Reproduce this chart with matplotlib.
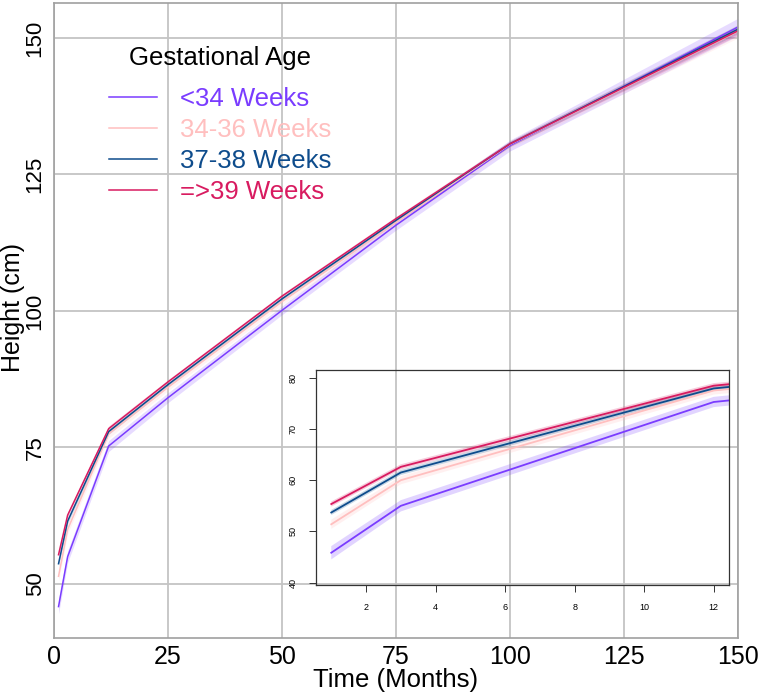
import matplotlib
matplotlib.use("Agg")
import matplotlib.pyplot as plt
from matplotlib import font_manager as fm
import numpy as np

# ---- data ----
months = [1, 3, 12, 25, 50, 75, 100, 150]
groups = ["<34 Weeks", "34-36 Weeks", "37-38 Weeks", "=>39 Weeks"]
colors = ["#7A3CFF", "#FFBFBF", "#0E4C8C", "#D81B60"]
h_lt34 = [45.85, 55.0, 75.26, 84.1, 100.1, 115.7, 130.3, 152.0]
h_34_36 = [51.4, 60.0, 77.5, 86.0, 101.7, 116.2, 130.5, 151.2]
h_37_38 = [53.7, 61.5, 77.9, 86.5, 102.2, 116.6, 130.6, 151.6]
h_ge39 = [55.35, 62.6, 78.44, 87.0, 102.7, 116.9, 130.6, 151.3]
se_lt34 = [1.3, 1.1, 1.0, 0.9, 0.8, 0.9, 1.0, 1.6]
se_34_36 = [0.9, 0.8, 0.8, 0.6, 0.6, 0.6, 0.7, 1.2]
se_37_38 = [0.5, 0.5, 0.5, 0.4, 0.4, 0.4, 0.5, 0.8]
se_ge39 = [0.5, 0.5, 0.5, 0.4, 0.4, 0.4, 0.5, 0.8]
heights = [h_lt34, h_34_36, h_37_38, h_ge39]
ses = [se_lt34, se_34_36, se_37_38, se_ge39]
x_ticks = [0, 25, 50, 75, 100, 125, 150]
y_ticks = [50, 75, 100, 125, 150]
inset_xticks = [2, 4, 6, 8, 10, 12]
inset_yticks = [40, 50, 60, 70, 80]

names = {f.name for f in fm.fontManager.ttflist}
narrow = "Liberation Sans Narrow" if "Liberation Sans Narrow" in names else "Liberation Sans"
plt.rcParams["font.family"] = ["Liberation Sans", "DejaVu Sans"]

fig = plt.figure(figsize=(7.59, 6.93), dpi=100)
ax = fig.add_axes([0.0711, 0.0794, 0.9723 - 0.0711, 0.9957 - 0.0794])
ax.set_xlim(0, 150)
ax.set_ylim(40.1, 156.4)
ax.set_xticks(x_ticks)
ax.set_yticks(y_ticks)
ax.grid(True, color="#c4c4c4", linewidth=1.3)
ax.set_axisbelow(True)
for s in ax.spines.values():
    s.set_color("#a0a0a0")
    s.set_linewidth(1.2)
ax.tick_params(length=0, pad=6)
ax.tick_params(axis="x", pad=5)
for lab in ax.get_xticklabels():
    lab.set_fontfamily(narrow)
    lab.set_fontsize(18)
for lab in ax.get_yticklabels():
    lab.set_fontsize(16)
    lab.set_rotation(90)
    lab.set_va("center")
xl = ax.set_xlabel("Time (Months)", fontsize=18.5, fontfamily=narrow)
ax.xaxis.set_label_coords(0.5, -0.066)
xl.set_va("center")
ax.set_ylabel("Height (cm)", fontsize=18)
ax.yaxis.set_label_coords(-0.043, 0.52)

handles = []
for h, se, c, g in zip(heights, ses, colors, groups):
    h = np.array(h); se = np.array(se)
    ax.fill_between(months, h - se, h + se, color=c, alpha=0.18, linewidth=0)
    ln, = ax.plot(months, h, color=c, linewidth=1.1, label=g)
    handles.append(ln)

leg = ax.legend(handles=handles, loc="upper left", bbox_to_anchor=(0.047, 0.969),
                frameon=False, fontsize=18.5, title="Gestational Age",
                title_fontsize=18.5, handlelength=1.85, handletextpad=0.9,
                labelspacing=0.27, labelcolor=colors)
leg._legend_box.sep = 12.5

# inset
ins = fig.add_axes([0.4163, 0.1558, 0.9605 - 0.4163, 0.4661 - 0.1558])
ins.patch.set_alpha(0)
ins.set_xlim(0.56, 12.44)
ins.set_ylim(39.55, 81.5)
for h, se, c in zip(heights, ses, colors):
    h = np.array(h); se = np.array(se)
    ins.fill_between(months, h - se, h + se, color=c, alpha=0.22, linewidth=0)
    ins.plot(months, h, color=c, linewidth=1.3)
ins.set_xticks(inset_xticks)
ins.set_yticks(inset_yticks)
ins.tick_params(labelsize=6.5, length=5, width=0.7, color="#333333", pad=8)
for lab in ins.get_yticklabels():
    lab.set_rotation(90)
    lab.set_va("center")
for s in ins.spines.values():
    s.set_color("#333333")
    s.set_linewidth(0.9)

fig.savefig("out.png", dpi=100)
